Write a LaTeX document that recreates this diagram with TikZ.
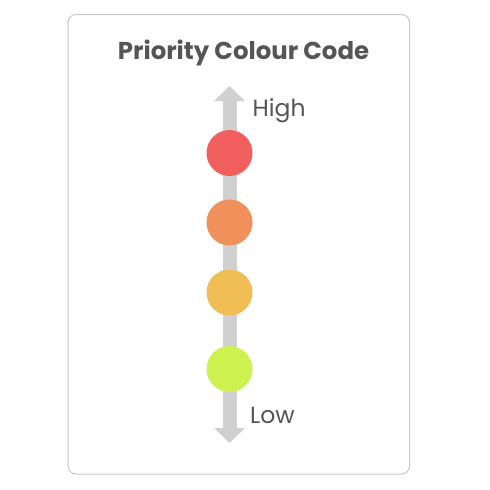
\documentclass[tikz,border=0pt]{standalone}
\usepackage{fontspec}
\setmainfont{Poppins}
\usetikzlibrary{arrows.meta}
\definecolor{cardborder}{HTML}{C8C8C8}
\definecolor{txtgrey}{HTML}{555555}
\definecolor{arrowgrey}{HTML}{D0D0D0}
\definecolor{cred}{HTML}{F25F5F}
\definecolor{corange}{HTML}{F0905A}
\definecolor{cyellow}{HTML}{F0BE55}
\definecolor{clime}{HTML}{CDF250}
\tikzset{
  dot/.style={circle, minimum size=46pt, inner sep=0pt, draw=none},
  lbl/.style={text=txtgrey, font=\fontsize{23.5}{28}\selectfont, inner sep=0pt, anchor=base west},
}
\begin{document}
\begin{tikzpicture}[x=1pt,y=-1pt]
\useasboundingbox (0,0) rectangle (490,490);
\fill[white] (0,0) rectangle (490,490);
\draw[cardborder, line width=1pt, rounded corners=8pt] (68,14.5) rectangle (409.5,474);
\node[text=txtgrey, font=\bfseries\fontsize{24.4}{29}\selectfont, inner sep=0pt, anchor=base] (title) at (243.5,59.3) {Priority Colour Code};
\coordinate (top) at (229.5,86);
\coordinate (bot) at (229.5,443);
\draw[arrowgrey, line width=14pt, {Triangle[width=30pt,length=15pt]}-{Triangle[width=30pt,length=15pt]}] (top) -- (bot);
\node[dot, fill=cred] (p1) at (229.5,153) {};
\node[dot, fill=corange] (p2) at (229.5,222.5) {};
\node[dot, fill=cyellow] (p3) at (229.5,292.5) {};
\node[dot, fill=clime] (p4) at (229.5,369) {};
\node[lbl] (high) at (252.5,116.5) {High};
\node[lbl] (low) at (250,423) {Low};
\end{tikzpicture}
\end{document}
